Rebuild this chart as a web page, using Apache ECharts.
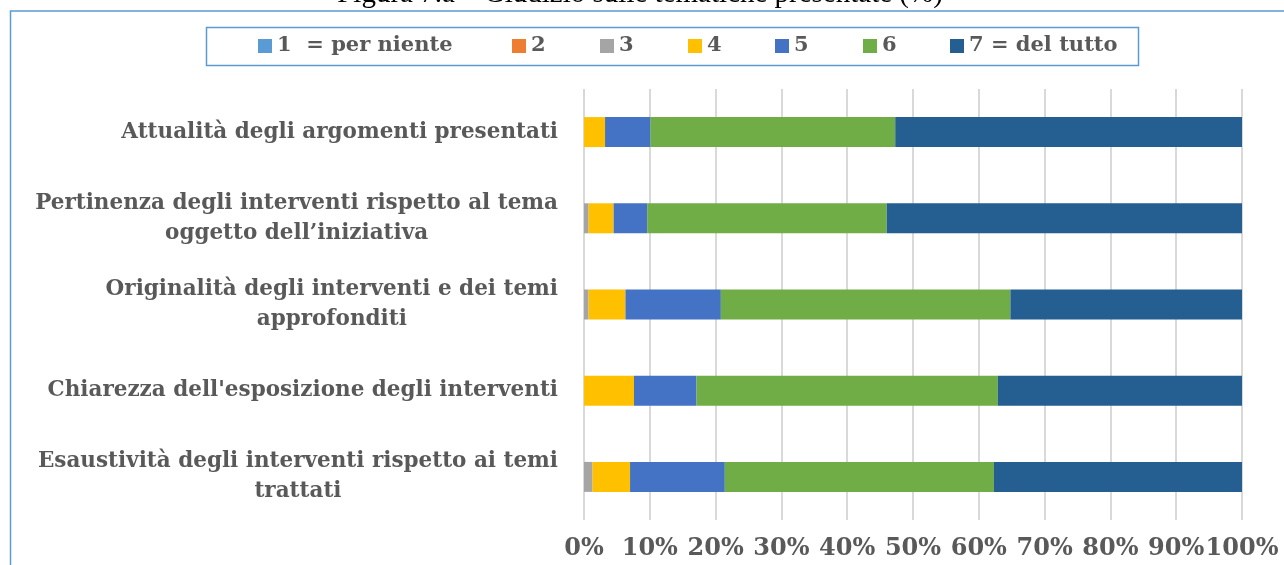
<!DOCTYPE html>
<html><head><meta charset="utf-8">
<script src="https://cdn.jsdelivr.net/npm/echarts@6/dist/echarts.min.js"></script>
<style>html,body{margin:0;padding:0;background:#fff}#c{width:1284px;height:565px}</style>
</head><body><div id="c"></div>
<script>
const titleText = 'Figura 7.a – Giudizio sulle tematiche presentate (%)';
const categories = [
  'Attualità degli argomenti presentati',
  'Pertinenza degli interventi rispetto al tema\noggetto dell\u2019iniziativa',
  'Originalità degli interventi e dei temi\napprofonditi',
  "Chiarezza dell'esposizione degli interventi",
  'Esaustività degli interventi rispetto ai temi\ntrattati'
];
const seriesNames = ['1  = per niente', '2', '3', '4', '5', '6', '7 = del tutto'];
const s1 = [0, 0, 0, 0, 0];
const s2 = [0, 0, 0, 0, 0];
const s3 = [0, 0.7, 0.7, 0, 1.3];
const s4 = [3.2, 3.8, 5.6, 7.6, 5.7];
const s5 = [6.9, 5.1, 14.5, 9.5, 14.4];
const s6 = [37.2, 36.4, 44.0, 45.8, 40.9];
const s7 = [52.7, 54.0, 35.2, 37.1, 37.7];
const seriesValues = [s1, s2, s3, s4, s5, s6, s7];
const colors = ['#5b9bd5', '#ed7d31', '#a5a5a5', '#ffc000', '#4472c4', '#70ad47', '#255e91'];
const xMin = 0, xMax = 100, xStep = 10;
const legendLeft = [258, 512, 600, 688, 775, 863, 950];

const FONT = "'DejaVu Serif', serif";
const GREY = '#595959';

const chart = echarts.init(document.getElementById('c'), null, {renderer: 'canvas'});

const legends = seriesNames.map((n, i) => ({
  data: [n], left: legendLeft[i], top: 35, padding: 0,
  itemWidth: 14, itemHeight: 14, icon: 'rect',
  selectedMode: false,
  textStyle: {fontFamily: FONT, fontWeight: 'bold', fontSize: 21, color: GREY, lineHeight: 22}
}));

const series = seriesNames.map((n, i) => ({
  name: n, type: 'bar', stack: 'total', barWidth: 30,
  itemStyle: {color: colors[i]},
  emphasis: {disabled: true},
  data: seriesValues[i]
}));

chart.setOption({
  animation: false,
  backgroundColor: '#fff',
  legend: legends,
  grid: {left: 584, right: 42, top: 89, bottom: 45, containLabel: false},
  xAxis: {
    type: 'value', min: xMin, max: xMax, interval: xStep,
    axisLine: {show: false}, axisTick: {show: false},
    splitLine: {show: true, lineStyle: {color: '#d9d9d9', width: 2}},
    axisLabel: {formatter: '{value}%', margin: 17, fontFamily: FONT, fontWeight: 'bold', fontSize: 24, color: GREY}
  },
  yAxis: {
    type: 'category', data: categories, inverse: true,
    axisLine: {show: false}, axisTick: {show: false},
    axisLabel: {
      margin: 26,
      formatter: v => v.split('\n').map(l => '{c|' + l + '}').join('\n'),
      rich: {c: {align: 'center', fontFamily: FONT, fontWeight: 'bold', fontSize: 21.5, color: GREY, lineHeight: 30}}
    }
  },
  graphic: [
    {type: 'rect', silent: true, z: -1, shape: {x: 10.5, y: 11, width: 1400, height: 700},
     style: {fill: 'none', stroke: '#5b9bd5', lineWidth: 1.5}},
    {type: 'rect', silent: true, z: -1, shape: {x: 206.5, y: 27.5, width: 932, height: 38},
     style: {fill: '#fff', stroke: '#5b9bd5', lineWidth: 1.5}},
    {type: 'text', silent: true, style: {text: titleText, x: 640, y: 9, align: 'center', verticalAlign: 'bottom',
      fontFamily: "'Liberation Serif', serif", fontSize: 29, fill: '#000'}}
  ],
  series: series
});
</script></body></html>
